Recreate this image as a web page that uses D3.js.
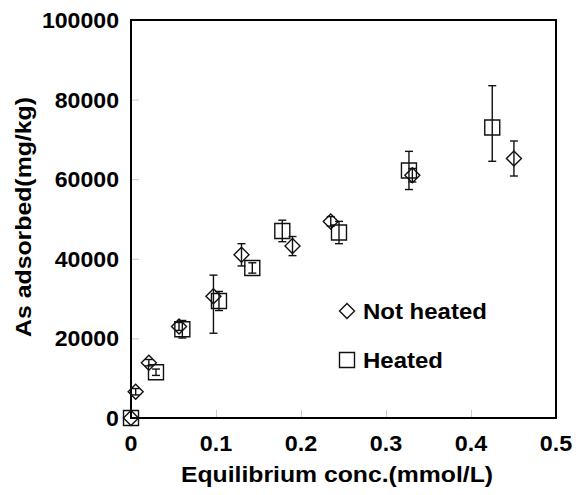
<!DOCTYPE html>
<html>
<head>
<meta charset="utf-8">
<script src="https://cdn.jsdelivr.net/npm/d3@7"></script>
<style>
  html, body { margin: 0; padding: 0; background: #fff; }
  text { font-family: "Liberation Sans", Arial, sans-serif; font-weight: bold; fill: #000; }
</style>
</head>
<body>
<svg id="chart" width="576" height="495"></svg>
<script>
// Arsenic adsorption isotherm: not heated vs heated sorbent
const notHeatedConc    = [0, 0.0055, 0.021, 0.0565, 0.097, 0.130, 0.190, 0.235, 0.331, 0.4505];
const notHeatedAs      = [0, 6600, 13900, 23000, 30600, 41000, 43200, 49400, 61000, 65200];
const notHeatedErrUp   = [0, 800, 800, 1000, 5300, 2800, 2400, 1200, 1700, 4400];
const notHeatedErrDown = [0, 800, 800, 1000, 9300, 2800, 2400, 1200, 1700, 4400];

const heatedConc    = [0, 0.0294, 0.0604, 0.1035, 0.1427, 0.178, 0.2447, 0.327, 0.425];
const heatedAs      = [0, 11500, 22300, 29400, 37700, 47000, 46600, 62200, 73000];
const heatedErrUp   = [0, 800, 2200, 2400, 1300, 2700, 2800, 4800, 10500];
const heatedErrDown = [0, 800, 2200, 2400, 1300, 2700, 2800, 4800, 8500];

const xTicks = [0, 0.1, 0.2, 0.3, 0.4, 0.5];
const yTicks = [0, 20000, 40000, 60000, 80000, 100000];
const seriesNames = ["Not heated", "Heated"];

const svg = d3.select("#chart");
const plotL = 131, plotR = 556, plotT = 20, plotB = 418;

const x = d3.scaleLinear().domain([0, 0.5]).range([plotL, plotR]);
const y = d3.scaleLinear().domain([0, 100000]).range([plotB, plotT]);

// stretch text horizontally so the bold face fills its measured width
function widen(sel, k) {
  sel.each(function () {
    const w = this.getComputedTextLength();
    d3.select(this).attr("textLength", w * k).attr("lengthAdjust", "spacingAndGlyphs");
  });
}

// faint inner ticks
const gx = svg.append("g").attr("transform", `translate(0,${plotB})`)
  .call(d3.axisTop(x).tickValues(xTicks.slice(1, -1)).tickSize(8).tickFormat(""));
gx.select(".domain").remove();
gx.selectAll("line").attr("stroke", "#c8c8c8").attr("stroke-width", 1);

const gy = svg.append("g").attr("transform", `translate(${plotL},0)`)
  .call(d3.axisRight(y).tickValues(yTicks.slice(1, -1)).tickSize(8).tickFormat(""));
gy.select(".domain").remove();
gy.selectAll("line").attr("stroke", "#c8c8c8").attr("stroke-width", 1);

// frame
svg.append("rect")
  .attr("x", plotL).attr("y", plotT)
  .attr("width", plotR - plotL).attr("height", plotB - plotT)
  .attr("fill", "none").attr("stroke", "#000").attr("stroke-width", 2);

// tick labels
const xl = svg.append("g").selectAll("text").data(xTicks).join("text")
  .attr("x", d => x(d)).attr("y", 451)
  .attr("text-anchor", "middle").attr("font-size", 22)
  .text(d => d3.format("")(d));
widen(xl, 1.06);

const yl = svg.append("g").selectAll("text").data(yTicks).join("text")
  .attr("x", 119).attr("y", d => y(d) + 8)
  .attr("text-anchor", "end").attr("font-size", 22)
  .text(d => String(d));
widen(yl, 1.05);

// axis titles
const xt = svg.append("text")
  .attr("x", 337).attr("y", 482)
  .attr("text-anchor", "middle").attr("font-size", 22)
  .text("Equilibrium conc.(mmol/L)");
widen(xt, 1.125);

const yt = svg.append("text")
  .attr("transform", "translate(31,217) rotate(-90)")
  .attr("text-anchor", "middle").attr("font-size", 22)
  .text("As adsorbed(mg/kg)");
widen(yt, 1.128);

const diamond = "M0,-7.5L7.5,0L0,7.5L-7.5,0Z";
const square = "M-7.5,-7.5H7.5V7.5H-7.5Z";

function drawSeries(xs, ys, up, down, path) {
  const data = xs.map((c, i) => ({ c, v: ys[i], hi: ys[i] + up[i], lo: ys[i] - down[i] }));
  const g = svg.append("g").attr("stroke", "#111").attr("stroke-width", 1.4).attr("fill", "none");
  const eb = g.selectAll("g.eb").data(data.filter(d => d.hi > d.lo)).join("g").attr("class", "eb");
  eb.append("line")
    .attr("x1", d => x(d.c)).attr("x2", d => x(d.c))
    .attr("y1", d => y(d.hi)).attr("y2", d => y(d.lo));
  eb.append("line")
    .attr("x1", d => x(d.c) - 4).attr("x2", d => x(d.c) + 4)
    .attr("y1", d => y(d.hi)).attr("y2", d => y(d.hi));
  eb.append("line")
    .attr("x1", d => x(d.c) - 4).attr("x2", d => x(d.c) + 4)
    .attr("y1", d => y(d.lo)).attr("y2", d => y(d.lo));
  g.selectAll("path").data(data).join("path")
    .attr("d", path)
    .attr("transform", d => `translate(${x(d.c)},${y(d.v)})`);
}

drawSeries(heatedConc, heatedAs, heatedErrUp, heatedErrDown, square);
drawSeries(notHeatedConc, notHeatedAs, notHeatedErrUp, notHeatedErrDown, diamond);

// legend
const legend = svg.append("g");
const items = [
  { name: seriesNames[0], path: diamond, ly: 311 },
  { name: seriesNames[1], path: square, ly: 360 }
];
legend.selectAll("path").data(items).join("path")
  .attr("d", d => d.path)
  .attr("transform", d => `translate(347,${d.ly})`)
  .attr("fill", "none").attr("stroke", "#111").attr("stroke-width", 1.4);
const lt = legend.selectAll("text").data(items).join("text")
  .attr("x", 363).attr("y", d => d.ly + 7.5)
  .attr("font-size", 22)
  .text(d => d.name);
widen(lt, 1.09);
</script>
</body>
</html>
